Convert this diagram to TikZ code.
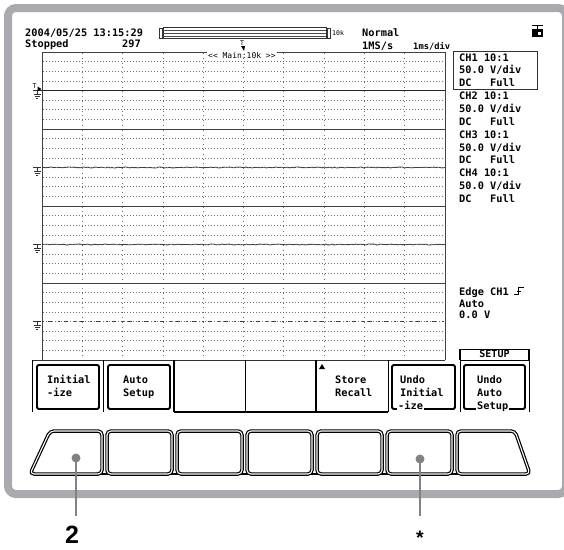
\documentclass[tikz,border=0pt]{standalone}
\usepackage{fontspec}
\setmainfont{Liberation Sans}
\newfontfamily\scr{DejaVu Sans Mono}
\usetikzlibrary{decorations.pathmorphing}
\definecolor{framegray}{RGB}{168,170,173}
\definecolor{callgray}{RGB}{128,130,133}
\definecolor{gridgray}{RGB}{110,110,110}
\begin{document}
\begin{tikzpicture}[x=1pt,y=-1pt,
  txt/.style={font=\scr\bfseries\fontsize{10.3}{12}\selectfont, inner sep=0pt, anchor=base west},
  smalltxt/.style={font=\scr\fontsize{8}{9}\selectfont, inner sep=0pt, anchor=base west},
  tinytxt/.style={font=\scr\fontsize{6.5}{7}\selectfont, inner sep=0pt, anchor=base west},
  hdot/.style={gridgray, line width=0.7pt, dash pattern=on 0.7pt off 2.3pt},
  vdot/.style={gridgray, line width=0.7pt, dash pattern=on 0.7pt off 4.1pt},
  sep/.style={black!75, line width=1pt},
  gnd/.style={black!80, line width=0.7pt},
  keyraised/.style={draw=black, line width=1.8pt, rounded corners=1.5pt},
  button/.style={draw=black, line width=1.2pt, double=white, double distance=1.1pt, rounded corners=4pt},
  callout/.style={callgray, line width=2.3pt},
  dot/.style={circle, fill=callgray, inner sep=0pt, minimum size=9pt},
  biglabel/.style={font=\fontsize{25}{25}\selectfont\bfseries, inner sep=0pt, anchor=base}
]
\useasboundingbox (0,0) rectangle (564,549);
\fill[white] (0,0) rectangle (564,549);
% outer frame
\draw[framegray, line width=8pt, rounded corners=8pt] (8,8) rectangle (566,494);

% ---- graticule grid
\foreach \s in {0,1,2,3}{
  \foreach \k in {1,...,7}{
    \draw[hdot] (43,{52+77*\s+9.625*\k}) -- (445,{52+77*\s+9.625*\k});
  }
}
\foreach \k in {1,...,9}{
  \draw[vdot] ({42+40.3*\k},53) -- ({42+40.3*\k},360);
}
% section separators and border
\draw[sep] (42,52) -- (445,52);
\draw[sep] (42,52) -- (42,360);
\draw[sep] (445,52) -- (445,360);
\foreach \y in {129,206,283}{ \draw[sep] (42,\y) -- (445,\y); }

% traces
\pgfmathsetseed{7}
\draw[black!85, line width=1.4pt] (33,90.5) -- (445,90.5);
\draw[black!75, line width=0.8pt, decorate, decoration={random steps, segment length=2pt, amplitude=0.5pt}] (42,167.5) -- (445,167.5);
\draw[black!75, line width=0.8pt, decorate, decoration={random steps, segment length=2pt, amplitude=0.5pt}] (42,244.5) -- (445,244.5);
\draw[black!75, line width=0.8pt, dash pattern=on 2pt off 4pt on 4pt off 6pt] (42,321.5) -- (445,321.5);

% ground symbols
\foreach \y in {90.5,167.5,244.5,321.5}{
  \draw[gnd] (33,\y) -- (41,\y) (37,\y) -- (37,\y+4)
    (33.5,\y+4) -- (40.5,\y+4) (34.5,\y+6) -- (39.5,\y+6) (36,\y+8) -- (38,\y+8);
}
\node[tinytxt] (trigT) at (32.5,88) {T};
\fill[black] (37.5,86.5) -- (41.5,89) -- (37.5,91.5) -- cycle;

% ---- header
\node[txt] (date) at (25,36) {2004/05/25 13:15:29};
\node[txt] (stopped) at (25,47) {Stopped};
\node[txt] (count) at (122,47) {297};
\node[txt] (normal) at (362,36) {Normal};
\node[txt] (rate) at (362,49) {1MS/s};
\node[smalltxt, font=\scr\bfseries\fontsize{8.8}{9}\selectfont] (tdiv) at (413,49) {1ms/div};
% record bar
\draw[black!80, line width=0.7pt] (159,28) rectangle (162,38);
\draw[black!80, line width=0.7pt] (327,28) rectangle (330,38);
\draw[black!80, line width=0.8pt] (163,27.5) rectangle (326,38.5);
\foreach \y in {30.3,33,35.8}{ \draw[black!70, line width=0.6pt] (163,\y) -- (326,\y); }
\node[tinytxt] (tenk) at (332,35.5) {10k};
\node[tinytxt] (barT) at (240,45) {T};
\fill[black] (241,46) -- (245,46) -- (244,51) -- cycle;
\node[smalltxt, fill=white, inner xsep=1pt] (zoomlbl) at (207,58) {<< Main:10k >>};
% icon
\draw[black, line width=0.8pt] (532,25.5) -- (543,25.5) (537.5,25.5) -- (537.5,29);
\fill[black] (532,29) rectangle (543,36.5);
\fill[white] (538,32) rectangle (541,34.5);

% ---- right panel
\draw[black!80, line width=0.9pt] (453,51) rectangle (537,89);
\node[txt] (c1a) at (459,61) {CH1 10:1};
\node[txt] (c1b) at (459,73.9) {50.0 V/div};
\node[txt] (c1c) at (459,86.7) {DC~~~Full};
\node[txt] (c2a) at (459,99.6) {CH2 10:1};
\node[txt] (c2b) at (459,112.4) {50.0 V/div};
\node[txt] (c2c) at (459,125.3) {DC~~~Full};
\node[txt] (c3a) at (459,138.2) {CH3 10:1};
\node[txt] (c3b) at (459,151) {50.0 V/div};
\node[txt] (c3c) at (459,163.9) {DC~~~Full};
\node[txt] (c4a) at (459,176.7) {CH4 10:1};
\node[txt] (c4b) at (459,189.6) {50.0 V/div};
\node[txt] (c4c) at (459,202.5) {DC~~~Full};
\node[txt] (edge) at (459,295) {Edge CH1};
\draw[black, line width=0.8pt] (514,294) -- (518.5,294) -- (518.5,287) -- (524,287) (516.5,291) -- (520.5,291);
\node[txt] (auto) at (459,307) {Auto};
\node[txt] (level) at (459,318) {0.0 V};

% ---- soft keys
\draw[black!80, line width=1pt] (32,360) -- (445,360);
\draw[black, line width=0.9pt] (460,349) -- (529,349);
\draw[black, line width=1.6pt] (460,349) -- (460,360) (529,349) -- (529,360);
\draw[black, line width=0.9pt] (460,360) -- (529,360);
\node[font=\scr\bfseries\fontsize{10}{11}\selectfont, inner sep=0pt, inner xsep=1pt, fill=white, anchor=base] (setup) at (494.5,357.5) {SETUP};

\foreach \x/\w in {32/0.8,103/0.8,174/1.6,245.5/1.6,316/2,388/0.8,460/0.8,529/0.8}{
  \draw[black, line width=\w pt] (\x,360) -- (\x,412);
}
\draw[black, line width=1.2pt] (174,412) -- (388,412);
\draw[keyraised] (37,365) rectangle (99,409);
\draw[keyraised] (108,365) rectangle (170,409);
\draw[keyraised] (392,365) rectangle (455,409);
\draw[keyraised] (464,365) rectangle (525,409);
\fill[black] (319,369) -- (325,369) -- (322,364) -- cycle;

\node[txt] (k1a) at (47,383.5) {Initial};
\node[txt] (k1b) at (47,396) {-ize};
\node[txt] (k2a) at (123,383.5) {Auto};
\node[txt] (k2b) at (123,396) {Setup};
\node[txt] (k5a) at (335,383.5) {Store};
\node[txt] (k5b) at (335,396) {Recall};
\node[txt] (k6a) at (400,383.5) {Undo};
\node[txt] (k6b) at (400,396) {Initial};
\node[txt, fill=white, inner xsep=1pt] (k6c) at (397,409.5) {-ize};
\node[txt] (k7a) at (477,383.5) {Undo};
\node[txt] (k7b) at (477,396) {Auto};
\node[txt, fill=white, inner xsep=1pt] (k7c) at (476,409.5) {Setup};

% ---- physical buttons
\draw[black, line width=1.3pt] (40,474) -- (520,474);
\draw[button] (102,474) -- (30,474) -- (50,431) -- (102,431) -- cycle;
\foreach \x in {107,177,247,317,387}{
  \draw[button] (\x,431) rectangle (\x+65,474);
}
\draw[button] (457,474) -- (457,431) -- (515,431) -- (530,474) -- cycle;

% ---- callouts
\node[dot] (d2) at (76,458) {};
\node[dot] (dstar) at (420,459) {};
\coordinate (e2) at (76,516);
\coordinate (estar) at (420,516);
\draw[callout] (d2.center) -- (e2);
\draw[callout] (dstar.center) -- (estar);
\node[biglabel] (lab2) at (72,543.5) {2};
\node[biglabel, font=\fontsize{19.5}{19.5}\selectfont\bfseries] (labstar) at (420,544.7) {*};
\end{tikzpicture}
\end{document}
